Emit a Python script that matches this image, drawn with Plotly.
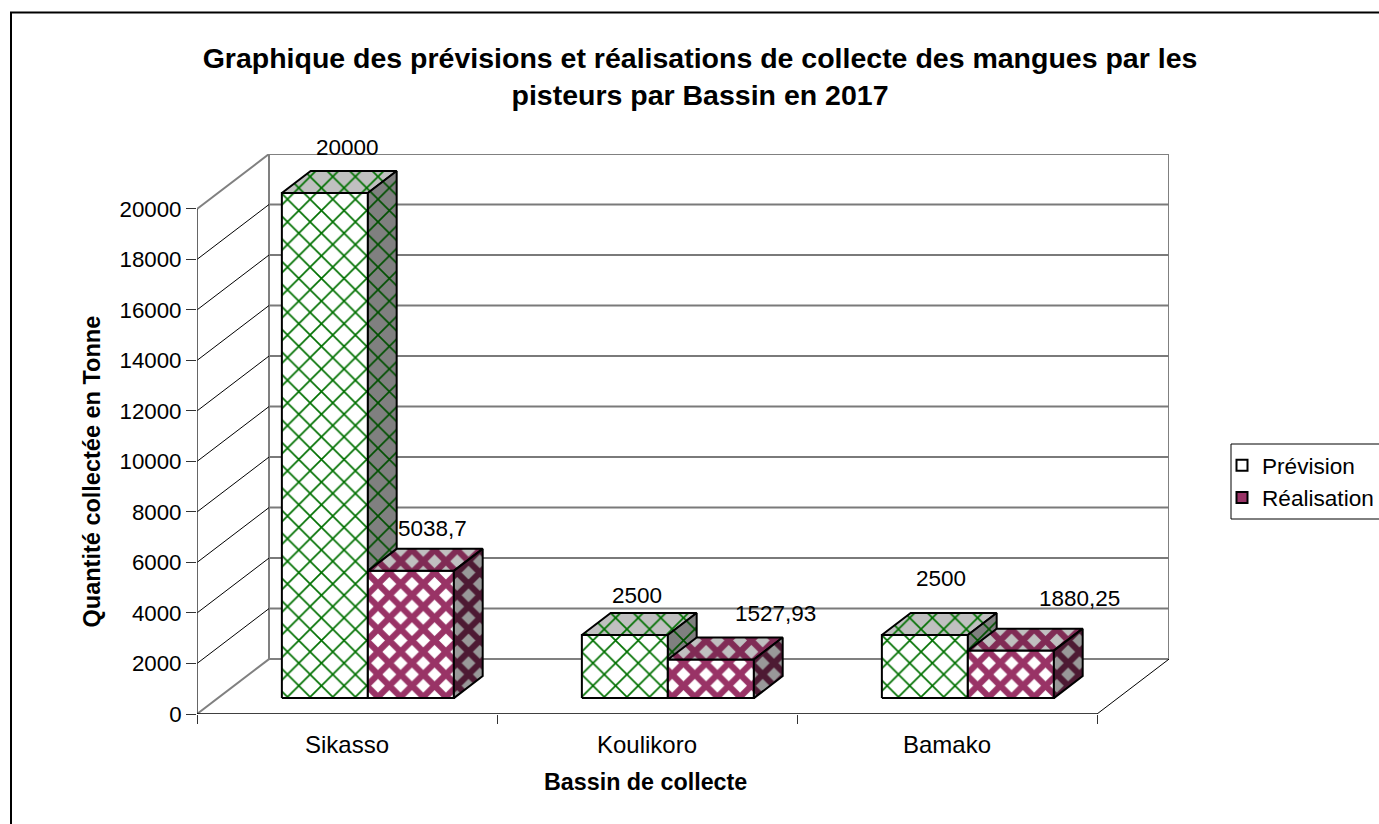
import plotly.graph_objects as go

categories = ["Sikasso", "Koulikoro", "Bamako"]
prevision = [20000, 2500, 2500]
realisation = [5038.7, 1527.93, 1880.25]
prevision_labels = ["20000", "2500", "2500"]
realisation_labels = ["5038,7", "1527,93", "1880,25"]
y_ticks = list(range(0, 20001, 2000))

TITLE = "Graphique des prévisions et réalisations de collecte des mangues par les<br>pisteurs par Bassin en 2017"
FONT = "Liberation Sans, Arial, sans-serif"

# oblique projection of the depth axis, in data units
DX, DY = 0.24, 2174
Y_MAX = 20000
D0, D1 = 0.29, 0.69
BAR_W = 0.2867
N = len(categories)


def proj(x, y, d):
    return x + d * DX, y + d * DY


def poly(points, bg, fg):
    xs, ys = zip(*points)
    return go.Scatter(
        x=list(xs) + [xs[0]], y=list(ys) + [ys[0]], mode="lines", fill="toself",
        fillcolor=bg, line=dict(color="black", width=2), hoverinfo="skip",
        showlegend=False, fillpattern=fg,
    )


def line(points, color, width):
    xs, ys = zip(*points)
    return go.Scatter(x=list(xs), y=list(ys), mode="lines", line=dict(color=color, width=width),
                      hoverinfo="skip", showlegend=False)


fig = go.Figure()

# walls
fig.add_trace(line([proj(0, 0, 1), proj(0, Y_MAX, 1), proj(N, Y_MAX, 1), proj(N, 0, 1), proj(0, 0, 1)], "#808080", 2))
for v in y_ticks[1:-1]:
    fig.add_trace(line([proj(0, v, 0), proj(0, v, 1)], "#000000", 1))
    fig.add_trace(line([proj(0, v, 1), proj(N, v, 1)], "#7a7a7a", 2))
fig.add_trace(line([proj(0, Y_MAX, 0), proj(0, Y_MAX, 1)], "#808080", 2))
fig.add_trace(line([proj(0, 0, 0), proj(0, 0, 1)], "#808080", 2))
fig.add_trace(line([proj(N, 0, 0), proj(N, 0, 1)], "#000000", 1))
fig.add_trace(line([proj(0, 0, 0), proj(0, Y_MAX, 0)], "#333333", 1.5))
fig.add_trace(line([proj(0, 0, 0), proj(N, 0, 0)], "#000000", 1.5))


def pat(fg, bg, size, solidity):
    return dict(shape="x", fgcolor=fg, bgcolor=bg, fgopacity=1, fillmode="replace", size=size, solidity=solidity)


STYLES = [
    dict(front=pat("#007000", "#ffffff", 16, 0.2), top=pat("#007000", "#c0c0c0", 16, 0.2),
         side=pat("#005000", "#808080", 16, 0.2)),
    dict(front=pat("#993366", "#ffffff", 16, 0.62), top=pat("#802b55", "#c0c0c0", 16, 0.62),
         side=pat("#4d1a33", "#999999", 16, 0.62)),
]

for i in range(N):
    for s, (vals, st) in enumerate(zip((prevision, realisation), STYLES)):
        v = vals[i]
        xa = i + 0.5 - BAR_W + s * BAR_W
        xb = xa + BAR_W
        fig.add_trace(poly([proj(xa, 0, D0), proj(xb, 0, D0), proj(xb, v, D0), proj(xa, v, D0)], st["front"]["bgcolor"], st["front"]))
        fig.add_trace(poly([proj(xa, v, D0), proj(xb, v, D0), proj(xb, v, D1), proj(xa, v, D1)], st["top"]["bgcolor"], st["top"]))
        fig.add_trace(poly([proj(xb, 0, D0), proj(xb, 0, D1), proj(xb, v, D1), proj(xb, v, D0)], st["side"]["bgcolor"], st["side"]))

# legend entries
fig.add_trace(go.Scatter(x=[None], y=[None], mode="markers", name="Prévision",
                         marker=dict(symbol="square", size=11, color="white", line=dict(color="black", width=2))))
fig.add_trace(go.Scatter(x=[None], y=[None], mode="markers", name="Réalisation",
                         marker=dict(symbol="square", size=11, color="#993366", line=dict(color="black", width=2))))

ann = []
# pixel shifts of the data labels from the top of their bar
shifts_p = [(-6, 24), (-17, 17), (-13, 34)]
shifts_r = [(-7, 20), (36, 24), (40, 30)]
for i in range(N):
    for s, (vals, labs, shifts) in enumerate(((prevision, prevision_labels, shifts_p), (realisation, realisation_labels, shifts_r))):
        xa = i + 0.5 - BAR_W + s * BAR_W + BAR_W / 2
        x, y = proj(xa, vals[i], D1)
        ann.append(dict(x=x, y=y, xref="x", yref="y", text=labs[i], showarrow=False,
                        xshift=shifts[i][0], yshift=shifts[i][1],
                        font=dict(size=22.5, color="black", family=FONT)))

ann.append(dict(x=1.5, y=0, xref="x", yref="paper", xanchor="center", yanchor="middle", xshift=-2, yshift=-68,
                text="<b>Bassin de collecte</b>", showarrow=False,
                font=dict(size=23.3, color="black", family=FONT)))
ann.append(dict(x=0, y=10000, xref="paper", yref="y", xanchor="center", yanchor="middle", xshift=-105, yshift=-10,
                text="<b>Quantité collectée en Tonne</b>",
                textangle=-90, showarrow=False, font=dict(size=23.5, color="black", family=FONT)))

W, H = 1379, 824
L, R, T, B = 197, 210, 154, 110
PW = W - L - R
PH = H - T - B


def px(v):
    return (v - L) / PW


def py(v):
    return 1 - (v - T) / PH


shapes = [
    dict(type="rect", xref="paper", yref="paper", x0=px(11), x1=px(1395), y0=py(12.5), y1=py(845),
         line=dict(color="black", width=2), fillcolor="rgba(0,0,0,0)", layer="below"),
    dict(type="rect", xref="paper", yref="paper", x0=px(1231), x1=px(1395), y0=py(444), y1=py(519),
         line=dict(color="black", width=1), fillcolor="white", layer="below"),
]

fig.update_layout(
    width=W, height=H, autosize=False,
    margin=dict(l=L, r=R, t=T, b=B, pad=0),
    paper_bgcolor="white", plot_bgcolor="white",
    font=dict(family=FONT, color="black", size=20),
    title=dict(text="<b>" + TITLE + "</b>", x=700 / W, xanchor="center", y=1 - 68 / H, yanchor="middle",
               font=dict(size=28.5, family=FONT, color="black")),
    legend=dict(xref="container", yref="container", x=1222 / W, y=1 - 444 / H, xanchor="left", yanchor="top",
                font=dict(size=22.6, family=FONT), bgcolor="rgba(0,0,0,0)", borderwidth=0, tracegroupgap=0),
    shapes=shapes, annotations=ann,
    xaxis=dict(range=[0, N + DX], tickvals=[i + 0.5 for i in range(N)], ticktext=categories, showgrid=False,
               zeroline=False, showline=False, ticks="outside", ticklen=9, tickcolor="rgba(0,0,0,0)",
               tickfont=dict(size=24, family=FONT),
               minor=dict(tickvals=list(range(N + 1)), ticks="outside", ticklen=9, tickcolor="#333333", tickwidth=1, showgrid=False)),
    yaxis=dict(range=[0, Y_MAX + DY], tickvals=y_ticks, showgrid=False, zeroline=False, showline=False,
               ticks="outside", ticklen=10, tickcolor="#333333", tickwidth=1, tickformat="d",
               tickfont=dict(size=22.3, family=FONT)),
)

fig.write_html("out.html", post_script="document.body.style.margin='0';", config=dict(displayModeBar=False))
